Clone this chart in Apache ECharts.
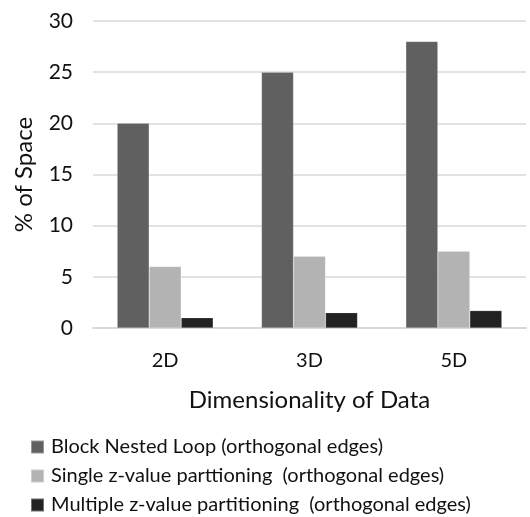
<!DOCTYPE html>
<html><head><meta charset="utf-8">
<script src="https://cdn.jsdelivr.net/npm/echarts@6/dist/echarts.min.js"></script>
<style>html,body{margin:0;padding:0;background:#fff}#c{width:530px;height:517px}</style>
</head><body><div id="c"></div>
<script>
const categories = ['2D', '3D', '5D'];
const seriesNames = [
  'Block Nested Loop (orthogonal edges)',
  'Single z-value parttioning  (orthogonal edges)',
  'Multiple z-value partitioning  (orthogonal edges)'
];
const blockNestedLoop = [20, 25, 28];
const singleZValue = [6, 7, 7.5];
const multipleZValue = [1, 1.5, 1.7];
const colors = ['#606060', '#b3b3b3', '#222222'];
const font = 'Lato, sans-serif';

const chart = echarts.init(document.getElementById('c'));
const values = [blockNestedLoop, singleZValue, multipleZValue];
chart.setOption({
  animation: false,
  textStyle: { fontFamily: font },
  grid: { left: 93, right: 4, top: 21, bottom: 189, containLabel: false },
  legend: {
    orient: 'vertical', left: 30, top: 436, itemGap: 7, padding: 0,
    itemWidth: 13, itemHeight: 13, icon: 'rect',
    textStyle: { fontSize: 20, lineHeight: 22, color: '#111', fontFamily: font, padding: [0, 0, 0, 2] },
    data: seriesNames
  },
  xAxis: {
    type: 'category', data: categories,
    name: 'Dimensionality of Data', nameLocation: 'middle', nameGap: 60,
    nameTextStyle: { fontSize: 24, color: '#111', fontFamily: font },
    axisLine: { show: true, lineStyle: { color: '#d9d9d9', width: 2 } },
    axisTick: { show: false },
    axisLabel: { fontSize: 20, color: '#111', margin: 23, fontFamily: font }
  },
  yAxis: {
    type: 'value', min: 0, max: 30, interval: 5,
    name: '% of Space', nameLocation: 'middle', nameGap: 57,
    nameTextStyle: { fontSize: 24, color: '#111', fontFamily: font },
    axisLine: { show: false }, axisTick: { show: false },
    axisLabel: { fontSize: 21, color: '#111', margin: 20, fontFamily: font },
    splitLine: { lineStyle: { color: '#d9d9d9', width: 1.5 } }
  },
  series: seriesNames.map((n, i) => ({
    name: n, type: 'bar', data: values[i],
    barWidth: 32, barGap: '0%',
    itemStyle: { color: colors[i], borderColor: 'rgba(255,255,255,0.35)', borderWidth: 0.5 }
  }))
});
</script></body></html>
